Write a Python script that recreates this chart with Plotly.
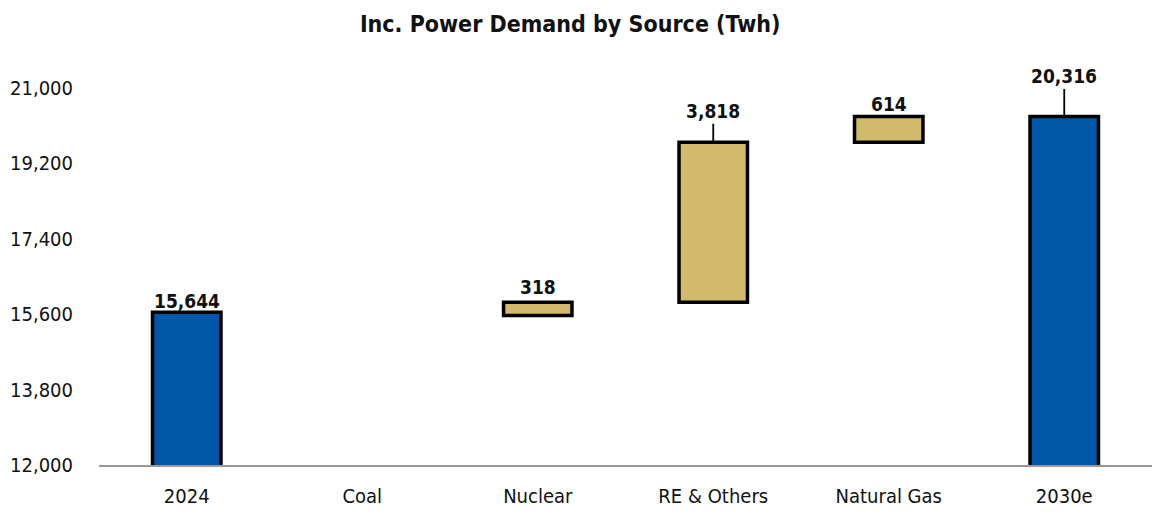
import plotly.graph_objects as go

categories = ["2024", "Coal", "Nuclear", "RE & Others", "Natural Gas", "2030e"]
values = [15644, -78, 318, 3818, 614, 20316]
measures = ["absolute", "relative", "relative", "relative", "relative", "total"]
labels = ["15,644", "", "318", "3,818", "614", "20,316"]
tick_vals = [12000, 13800, 15600, 17400, 19200, 21000]

# label placement style (pixels): leader (0 = none), text offset
leader = [0, 0, 0, 1, 0, 1]
offsets = [11, 0, 15, 31, 12, 40]

FONT = "Liberation Sans Narrow, DejaVu Sans Condensed, Arial Narrow, sans-serif"
BLUE = "#0057A8"
GOLD = "#D2BA6C"

fig = go.Figure()
fig.add_trace(go.Waterfall(
    x=categories, y=values, measure=measures,
    connector=dict(visible=False),
    totals=dict(marker=dict(color=BLUE, line=dict(color="black", width=3.5))),
    increasing=dict(marker=dict(color=GOLD, line=dict(color="black", width=3.5))),
    decreasing=dict(marker=dict(color="rgba(0,0,0,0)", line=dict(color="rgba(0,0,0,0)", width=0))),
    textinfo="none", hoverinfo="skip", width=0.39,
))

# compute bar tops from data
run = 0
tops = []
for v, m in zip(values, measures):
    if m == "absolute":
        start, run = 0, v
    elif m == "relative":
        start, run = run, run + v
    else:
        start = 0
    tops.append(max(start, run))

for i, (t, lab, ld, off) in enumerate(zip(tops, labels, leader, offsets)):
    if not lab:
        continue
    txt = "<b>" + lab + "</b>"
    if ld:
        fig.add_annotation(x=i, y=t, text=txt, showarrow=True, arrowhead=0,
                           arrowwidth=1.8, arrowcolor="black", ax=0, ay=-off,
                           font=dict(family=FONT, size=19, color="#111111"),
                           yanchor="middle")
    else:
        fig.add_annotation(x=i, y=t, text=txt, showarrow=False, yshift=off,
                           yanchor="middle",
                           font=dict(family=FONT, size=19, color="#111111"))

fig.update_layout(
    width=1152, height=512,
    margin=dict(l=91, r=8, t=42, b=55),
    paper_bgcolor="white", plot_bgcolor="white",
    showlegend=False,
    font=dict(family=FONT, color="#111111"),
    title=dict(text="<b>Inc. Power Demand by Source (Twh)</b>",
               font=dict(family=FONT, size=23, color="#111111"),
               x=0.488, xref="container", xanchor="center",
               y=0.969, yref="container", yanchor="middle"),
    yaxis=dict(range=[12000, 21900], tickvals=tick_vals, tickformat=",",
               showgrid=False, zeroline=False, showline=False,
               tickfont=dict(family=FONT, size=20, color="#111111"),
               ticklabelstandoff=25, automargin=False),
    xaxis=dict(type="category", range=[-0.5, len(categories) - 0.5],
               showline=True, linecolor="#999999", linewidth=2,
               showgrid=False, ticks="",
               tickfont=dict(family=FONT, size=20, color="#111111"),
               ticklabelstandoff=12, automargin=False),
)

fig.write_html("out.html")
